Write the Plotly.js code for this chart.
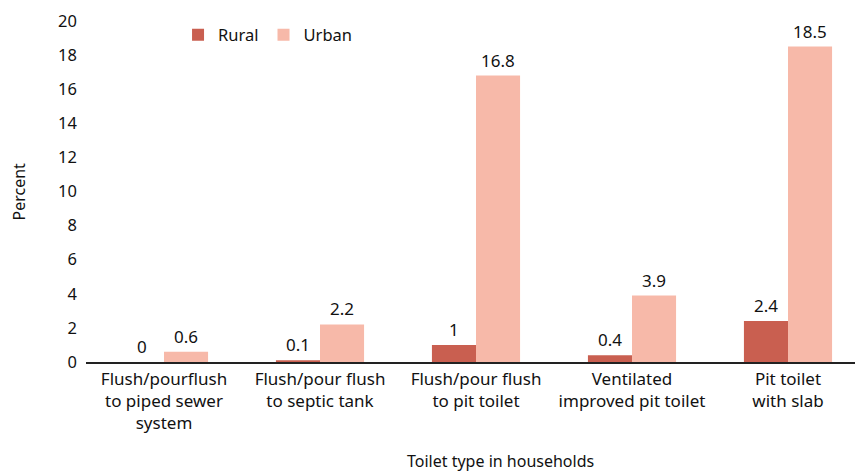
<!DOCTYPE html>
<html lang="en">
<head>
	<meta charset="utf-8">
	<title>Toilet type in households</title>
	<script src="https://cdn.plot.ly/plotly-3.0.1.min.js"></script>
<style>
html, body {
  margin: 0;
  padding: 0;
  overflow: hidden;
  background: #fff;
}
#graph {
  width: 880px;
  height: 471px;
}
</style>
</head>
<body>
<div id="graph"></div>
<script>
// toilet categories (x axis)
var categories = [
  'Flush/pourflush<br>to piped sewer<br>system',
  'Flush/pour flush<br>to septic tank',
  'Flush/pour flush<br>to pit toilet',
  'Ventilated<br>improved pit toilet',
  'Pit toilet<br>with slab'
];
var rural = [0, 0.1, 1, 0.4, 2.4];
var urban = [0.6, 2.2, 16.8, 3.9, 18.5];
var yTicks = [0, 2, 4, 6, 8, 10, 12, 14, 16, 18, 20];

var fontFam = 'Noto Sans, DejaVu Sans, sans-serif';

var traceR = {
  type: 'bar',
  name: 'Rural',
  x: categories,
  y: rural,
  marker: {color: '#c95f50', line: {width: 0}},
  hoverinfo: 'none'
};
var traceU = {
  type: 'bar',
  name: 'Urban',
  x: categories,
  y: urban,
  marker: {color: '#f7b9a9', line: {width: 0}},
  hoverinfo: 'none'
};

// value labels above the bars
var notes = [];
for (var i = 0; i < categories.length; i++) {
  notes.push({x: categories[i], y: rural[i], text: String(rural[i]), xref: 'x', yref: 'y',
    xshift: -22, yshift: 2, yanchor: 'bottom', showarrow: false,
    font: {family: fontFam, size: 17, color: '#111'}});
  notes.push({x: categories[i], y: urban[i], text: String(urban[i]), xref: 'x', yref: 'y',
    xshift: 22, yshift: 2, yanchor: 'bottom', showarrow: false,
    font: {family: fontFam, size: 17, color: '#111'}});
}
// axis titles
notes.push({text: 'Percent', xref: 'paper', yref: 'paper', x: 0, y: 0.5,
  xshift: -68, xanchor: 'center', yanchor: 'middle', textangle: -90, showarrow: false,
  font: {family: fontFam, size: 16, color: '#111'}});
notes.push({text: 'Toilet type in households', xref: 'paper', yref: 'paper', x: 0.531, y: 0,
  yshift: -99, xanchor: 'center', yanchor: 'middle', showarrow: false,
  font: {family: fontFam, size: 16, color: '#111'}});

var layout = {
  width: 880,
  height: 471,
  margin: {l: 86, r: 14, t: 21, b: 109},
  paper_bgcolor: '#fff',
  plot_bgcolor: '#fff',
  font: {family: fontFam, size: 17, color: '#111'},
  barmode: 'group',
  bargap: 0.435,
  bargroupgap: 0,
  showlegend: true,
  legend: {orientation: 'h', x: 0.118, y: 1.01, xanchor: 'left', yanchor: 'top',
    font: {family: fontFam, size: 16.5, color: '#111'}, bgcolor: 'rgba(0,0,0,0)'},
  xaxis: {
    showline: true, linecolor: '#222', linewidth: 1.5,
    showgrid: false, zeroline: false, ticks: '', ticklabelstandoff: 1,
    tickfont: {family: fontFam, size: 17, color: '#111'}
  },
  yaxis: {
    range: [0, 20], tickvals: yTicks, showgrid: false, zeroline: false,
    showline: false, ticks: '', ticklabelstandoff: 8,
    tickfont: {family: fontFam, size: 16.5, color: '#111'}
  },
  annotations: notes
};

Plotly.newPlot('graph', [traceR, traceU], layout, {displayModeBar: false, staticPlot: true});
</script>
</body>
</html>
